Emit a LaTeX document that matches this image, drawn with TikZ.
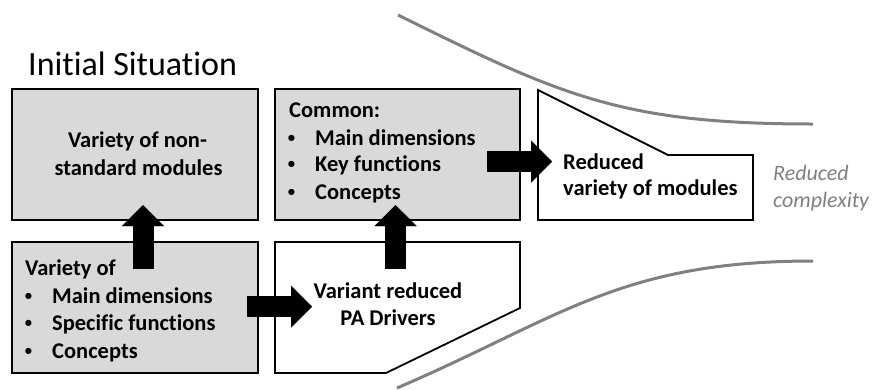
\documentclass[tikz,border=0pt]{standalone}
\usepackage{fontspec}
\setmainfont{Carlito}[Ligatures=NoCommon]
\usetikzlibrary{arrows.meta,calc}
\definecolor{boxgray}{RGB}{217,217,217}
\definecolor{curvegray}{RGB}{128,128,128}
\newcommand\bulletitem{\llap{\raisebox{2.6pt}{\scalebox{0.65}{\textbullet}}\hspace{20pt}}}
\begin{document}
\begin{tikzpicture}[x=1pt,y=-1pt,
  frame/.style={draw=black, line width=1.8pt, line join=miter},
  area/.style={inner sep=0pt, outer sep=0pt, anchor=north west},
  txt/.style={font=\fontsize{22.5}{27}\selectfont\bfseries, inner sep=0pt, anchor=base west},
  ctxt/.style={txt, anchor=base},
  note/.style={font=\fontsize{22}{27}\selectfont\itshape, text=curvegray, inner sep=0pt, anchor=base west},
  funnel/.style={draw=curvegray, line width=3pt},
  blockarrow/.style={line width=21pt, -{Triangle[length=21pt,width=42pt,line width=0.01pt]}},
]
\useasboundingbox (0,0) rectangle (875,389);

% heading
\node[font=\fontsize{34}{40}\selectfont, inner sep=0pt, anchor=base west] (title) at (28,75) {Initial Situation};

% funnel outline
\draw[funnel] (398,15) .. controls (560,95) and (620,124) .. (813,124);
\draw[funnel] (397,388) .. controls (560,318) and (620,261) .. (813,261);

% boxes
\node[area, frame, fill=boxgray, minimum width=246pt, minimum height=131pt] (tl) at (12,89) {};
\node[area, frame, fill=boxgray, minimum width=246pt, minimum height=131pt] (bl) at (12,242) {};
\node[area, frame, fill=boxgray, minimum width=245pt, minimum height=131pt] (tm) at (275,89) {};
\node[area, minimum width=245pt, minimum height=131pt] (bm) at (275,242) {};
\draw[frame, fill=white] (bm.north west) -- (bm.north east) -- ($(bm.north east)+(0,66)$)
  -- ($(bm.south west)+(111,0)$) -- (bm.south west) -- cycle;
\node[area, minimum width=215pt, minimum height=130pt] (rr) at (538,90) {};
\draw[frame, fill=white] (rr.north west) -- ($(rr.north west)+(130,65)$) -- ($(rr.north east)+(0,65)$)
  -- (rr.south east) -- (rr.south west) -- cycle;

% block arrows
\coordinate (u1s) at (143,269); \coordinate (u1e) at (143,205);
\coordinate (u2s) at (395.5,269); \coordinate (u2e) at (395.5,205);
\coordinate (r1s) at (247,306.5); \coordinate (r1e) at (312,306.5);
\coordinate (r2s) at (487,161.5); \coordinate (r2e) at (552,161.5);
\draw[blockarrow] (u1s) -- (u1e);
\draw[blockarrow] (u2s) -- (u2e);
\draw[blockarrow] (r1s) -- (r1e);
\draw[blockarrow] (r2s) -- (r2e);

% texts
\node[ctxt] (tl1) at (137.5,147) {Variety of non-};
\node[ctxt] (tl2) at (138.5,175) {standard modules};

\node[txt] (bl0) at (25,275) {Variety of};
\node[txt] (bl1) at (52,303) {\bulletitem Main dimensions};
\node[txt] (bl2) at (52,330) {\bulletitem Specific functions};
\node[txt] (bl3) at (52,358) {\bulletitem Concepts};

\node[txt] (tm0) at (289,117) {Common:};
\node[txt] (tm1) at (315,145) {\bulletitem Main dimensions};
\node[txt] (tm2) at (315,171) {\bulletitem Key functions};
\node[txt] (tm3) at (315,199) {\bulletitem Concepts};

\node[ctxt] (bm1) at (388,298) {Variant reduced};
\node[ctxt] (bm2) at (388,325) {PA Drivers};

\node[txt] (rr1) at (563,169) {Reduced};
\node[txt] (rr2) at (563,195) {variety of modules};

\node[note] (n1) at (773,180) {Reduced};
\node[note] (n2) at (773,207) {complexity};
\end{tikzpicture}
\end{document}
